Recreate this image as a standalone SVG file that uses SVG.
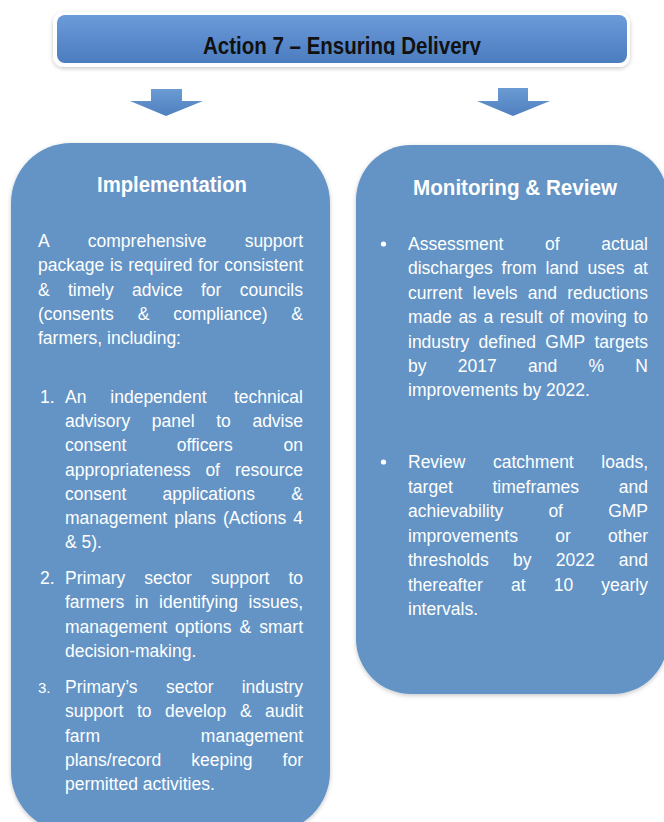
<svg xmlns="http://www.w3.org/2000/svg" width="664" height="822" viewBox="0 0 664 822">
  <defs>
    <linearGradient id="bannerFill" x1="0" y1="0" x2="0" y2="1">
      <stop offset="0" stop-color="#6b9bd8"/>
      <stop offset="0.5" stop-color="#5b8bcc"/>
      <stop offset="1" stop-color="#4c7dbe"/>
    </linearGradient>
    <linearGradient id="arrowFill" x1="0" y1="0" x2="0" y2="1">
      <stop offset="0" stop-color="#6b9bd3"/>
      <stop offset="1" stop-color="#4f80bf"/>
    </linearGradient>
    <filter id="softShadow" x="-10%" y="-10%" width="120%" height="120%">
      <feDropShadow dx="0" dy="1.5" stdDeviation="2" flood-color="#000" flood-opacity="0.22"/>
    </filter>
    <clipPath id="titleClip">
      <rect x="57" y="15" width="570" height="40"/>
    </clipPath>
    <style>
      .box { fill: #6394c5; filter: url(#softShadow); }
      .title { font-family: "Liberation Sans", Arial, sans-serif; font-weight: bold; font-size: 22px; fill: #ffffff; text-anchor: middle; }
      .body { font-family: "Liberation Sans", Arial, sans-serif; font-size: 17.5px; fill: #ffffff; }
      .end { text-anchor: end; }
      .num3 { font-size: 15px; }
      .arrow { fill: url(#arrowFill); }
    </style>
  </defs>

  <!-- Heading banner -->
  <g id="banner">
    <rect x="53" y="12" width="577" height="55" rx="11" fill="#ffffff" filter="url(#softShadow)"/>
    <rect x="57" y="15" width="570" height="48" rx="8" fill="url(#bannerFill)"/>
    <g clip-path="url(#titleClip)">
      <text x="342" y="54" text-anchor="middle" font-family="'Liberation Sans', Arial, sans-serif" font-weight="bold" font-size="24" fill="#111111" textLength="278" lengthAdjust="spacingAndGlyphs">Action 7 – Ensuring Delivery</text>
    </g>
  </g>

  <!-- Connectors: block arrows from the banner to each panel -->
  <g id="connectors">
    <path class="arrow" d="M151,89 H182 V101 H203 L166,116 L130,101 H151 Z"/>
    <path class="arrow" d="M498,88 H528 V101 H550 L513,116 L477,101 H498 Z"/>
  </g>

  <!-- Implementation panel -->
  <g id="implementation">
    <rect class="box" x="11" y="143" width="319" height="689" rx="60"/>
    <text class="title" x="172" y="192" textLength="150" lengthAdjust="spacingAndGlyphs">Implementation</text>
    <text class="body" y="247"><tspan x="38">A</tspan><tspan x="87.8">comprehensive</tspan><tspan class="end" x="303">support</tspan></text>
    <text class="body" y="271.3"><tspan x="38">package</tspan><tspan x="109.9">is</tspan><tspan x="128.2">required</tspan><tspan x="198.1">for</tspan><tspan class="end" x="303">consistent</tspan></text>
    <text class="body" y="295.6"><tspan x="38">&amp;</tspan><tspan x="68">timely</tspan><tspan x="132.1">advice</tspan><tspan x="201">for</tspan><tspan class="end" x="303">councils</tspan></text>
    <text class="body" y="319.9"><tspan x="38">(consents</tspan><tspan x="137.7">&amp;</tspan><tspan x="173.2">compliance)</tspan><tspan class="end" x="303">&amp;</tspan></text>
    <text class="body" x="38" y="344.2">farmers, including:</text>

    <text class="body" x="40" y="403">1.</text>
    <text class="body" y="403"><tspan x="65">An</tspan><tspan x="110.3">independent</tspan><tspan class="end" x="303">technical</tspan></text>
    <text class="body" y="427.2"><tspan x="65">advisory</tspan><tspan x="151.8">panel</tspan><tspan x="216.2">to</tspan><tspan class="end" x="303">advise</tspan></text>
    <text class="body" y="451.4"><tspan x="65">consent</tspan><tspan x="176.7">officers</tspan><tspan class="end" x="303">on</tspan></text>
    <text class="body" y="475.6"><tspan x="65">appropriateness</tspan><tspan x="205.4">of</tspan><tspan class="end" x="303">resource</tspan></text>
    <text class="body" y="499.8"><tspan x="65">consent</tspan><tspan x="162.6">applications</tspan><tspan class="end" x="303">&amp;</tspan></text>
    <text class="body" y="524"><tspan x="65">management</tspan><tspan x="174.2">plans</tspan><tspan x="223">(Actions</tspan><tspan class="end" x="303">4</tspan></text>
    <text class="body" x="65" y="548.2">&amp; 5).</text>

    <text class="body" x="40" y="584">2.</text>
    <text class="body" y="584"><tspan x="65">Primary</tspan><tspan x="144.3">sector</tspan><tspan x="211">support</tspan><tspan class="end" x="303">to</tspan></text>
    <text class="body" y="608.3"><tspan x="65">farmers</tspan><tspan x="134.9">in</tspan><tspan x="159.1">identifying</tspan><tspan class="end" x="303">issues,</tspan></text>
    <text class="body" y="632.6"><tspan x="65">management</tspan><tspan x="175.1">options</tspan><tspan x="239.6">&amp;</tspan><tspan class="end" x="303">smart</tspan></text>
    <text class="body" x="65" y="656.9">decision-making.</text>

    <text class="body num3" x="38" y="693">3.</text>
    <text class="body" y="693"><tspan x="65">Primary’s</tspan><tspan x="166">sector</tspan><tspan class="end" x="303">industry</tspan></text>
    <text class="body" y="717.3"><tspan x="65">support</tspan><tspan x="136.9">to</tspan><tspan x="165">develop</tspan><tspan x="239.9">&amp;</tspan><tspan class="end" x="303">audit</tspan></text>
    <text class="body" y="741.6"><tspan x="65">farm</tspan><tspan class="end" x="303">management</tspan></text>
    <text class="body" y="765.9"><tspan x="65">plans/record</tspan><tspan x="191.3">keeping</tspan><tspan class="end" x="303">for</tspan></text>
    <text class="body" x="65" y="790.2">permitted activities.</text>
  </g>

  <!-- Monitoring & Review panel -->
  <g id="monitoring-review">
    <rect class="box" x="356" y="145" width="312" height="549" rx="55"/>
    <text class="title" x="515" y="195" textLength="204" lengthAdjust="spacingAndGlyphs">Monitoring &amp; Review</text>

    <circle cx="383.5" cy="244" r="2.6" fill="#ffffff"/>
    <text class="body" y="250"><tspan x="408">Assessment</tspan><tspan x="545">of</tspan><tspan class="end" x="648">actual</tspan></text>
    <text class="body" y="274.4"><tspan x="408">discharges</tspan><tspan x="501.6">from</tspan><tspan x="545.5">land</tspan><tspan x="587.5">uses</tspan><tspan class="end" x="648">at</tspan></text>
    <text class="body" y="298.8"><tspan x="408">current</tspan><tspan x="472.8">levels</tspan><tspan x="527.8">and</tspan><tspan class="end" x="648">reductions</tspan></text>
    <text class="body" y="323.2"><tspan x="408">made</tspan><tspan x="458.4">as</tspan><tspan x="483.5">a</tspan><tspan x="499.8">result</tspan><tspan x="549.2">of</tspan><tspan x="570.4">moving</tspan><tspan class="end" x="648">to</tspan></text>
    <text class="body" y="347.6"><tspan x="408">industry</tspan><tspan x="478.6">defined</tspan><tspan x="545.3">GMP</tspan><tspan class="end" x="648">targets</tspan></text>
    <text class="body" y="372"><tspan x="408">by</tspan><tspan x="457.8">2017</tspan><tspan x="528">and</tspan><tspan x="588.5">%</tspan><tspan class="end" x="648">N</tspan></text>
    <text class="body" x="408" y="396.4">improvements by 2022.</text>

    <circle cx="383.5" cy="462" r="2.6" fill="#ffffff"/>
    <text class="body" y="468"><tspan x="408">Review</tspan><tspan x="493">catchment</tspan><tspan class="end" x="648">loads,</tspan></text>
    <text class="body" y="492.5"><tspan x="408">target</tspan><tspan x="492.5">timeframes</tspan><tspan class="end" x="648">and</tspan></text>
    <text class="body" y="517"><tspan x="408">achievability</tspan><tspan x="548.4">of</tspan><tspan class="end" x="648">GMP</tspan></text>
    <text class="body" y="541.5"><tspan x="408">improvements</tspan><tspan x="555.2">or</tspan><tspan class="end" x="648">other</tspan></text>
    <text class="body" y="566"><tspan x="408">thresholds</tspan><tspan x="513">by</tspan><tspan x="555.7">2022</tspan><tspan class="end" x="648">and</tspan></text>
    <text class="body" y="590.5"><tspan x="408">thereafter</tspan><tspan x="511">at</tspan><tspan x="553.7">10</tspan><tspan class="end" x="648">yearly</tspan></text>
    <text class="body" x="408" y="615">intervals.</text>
  </g>
</svg>
